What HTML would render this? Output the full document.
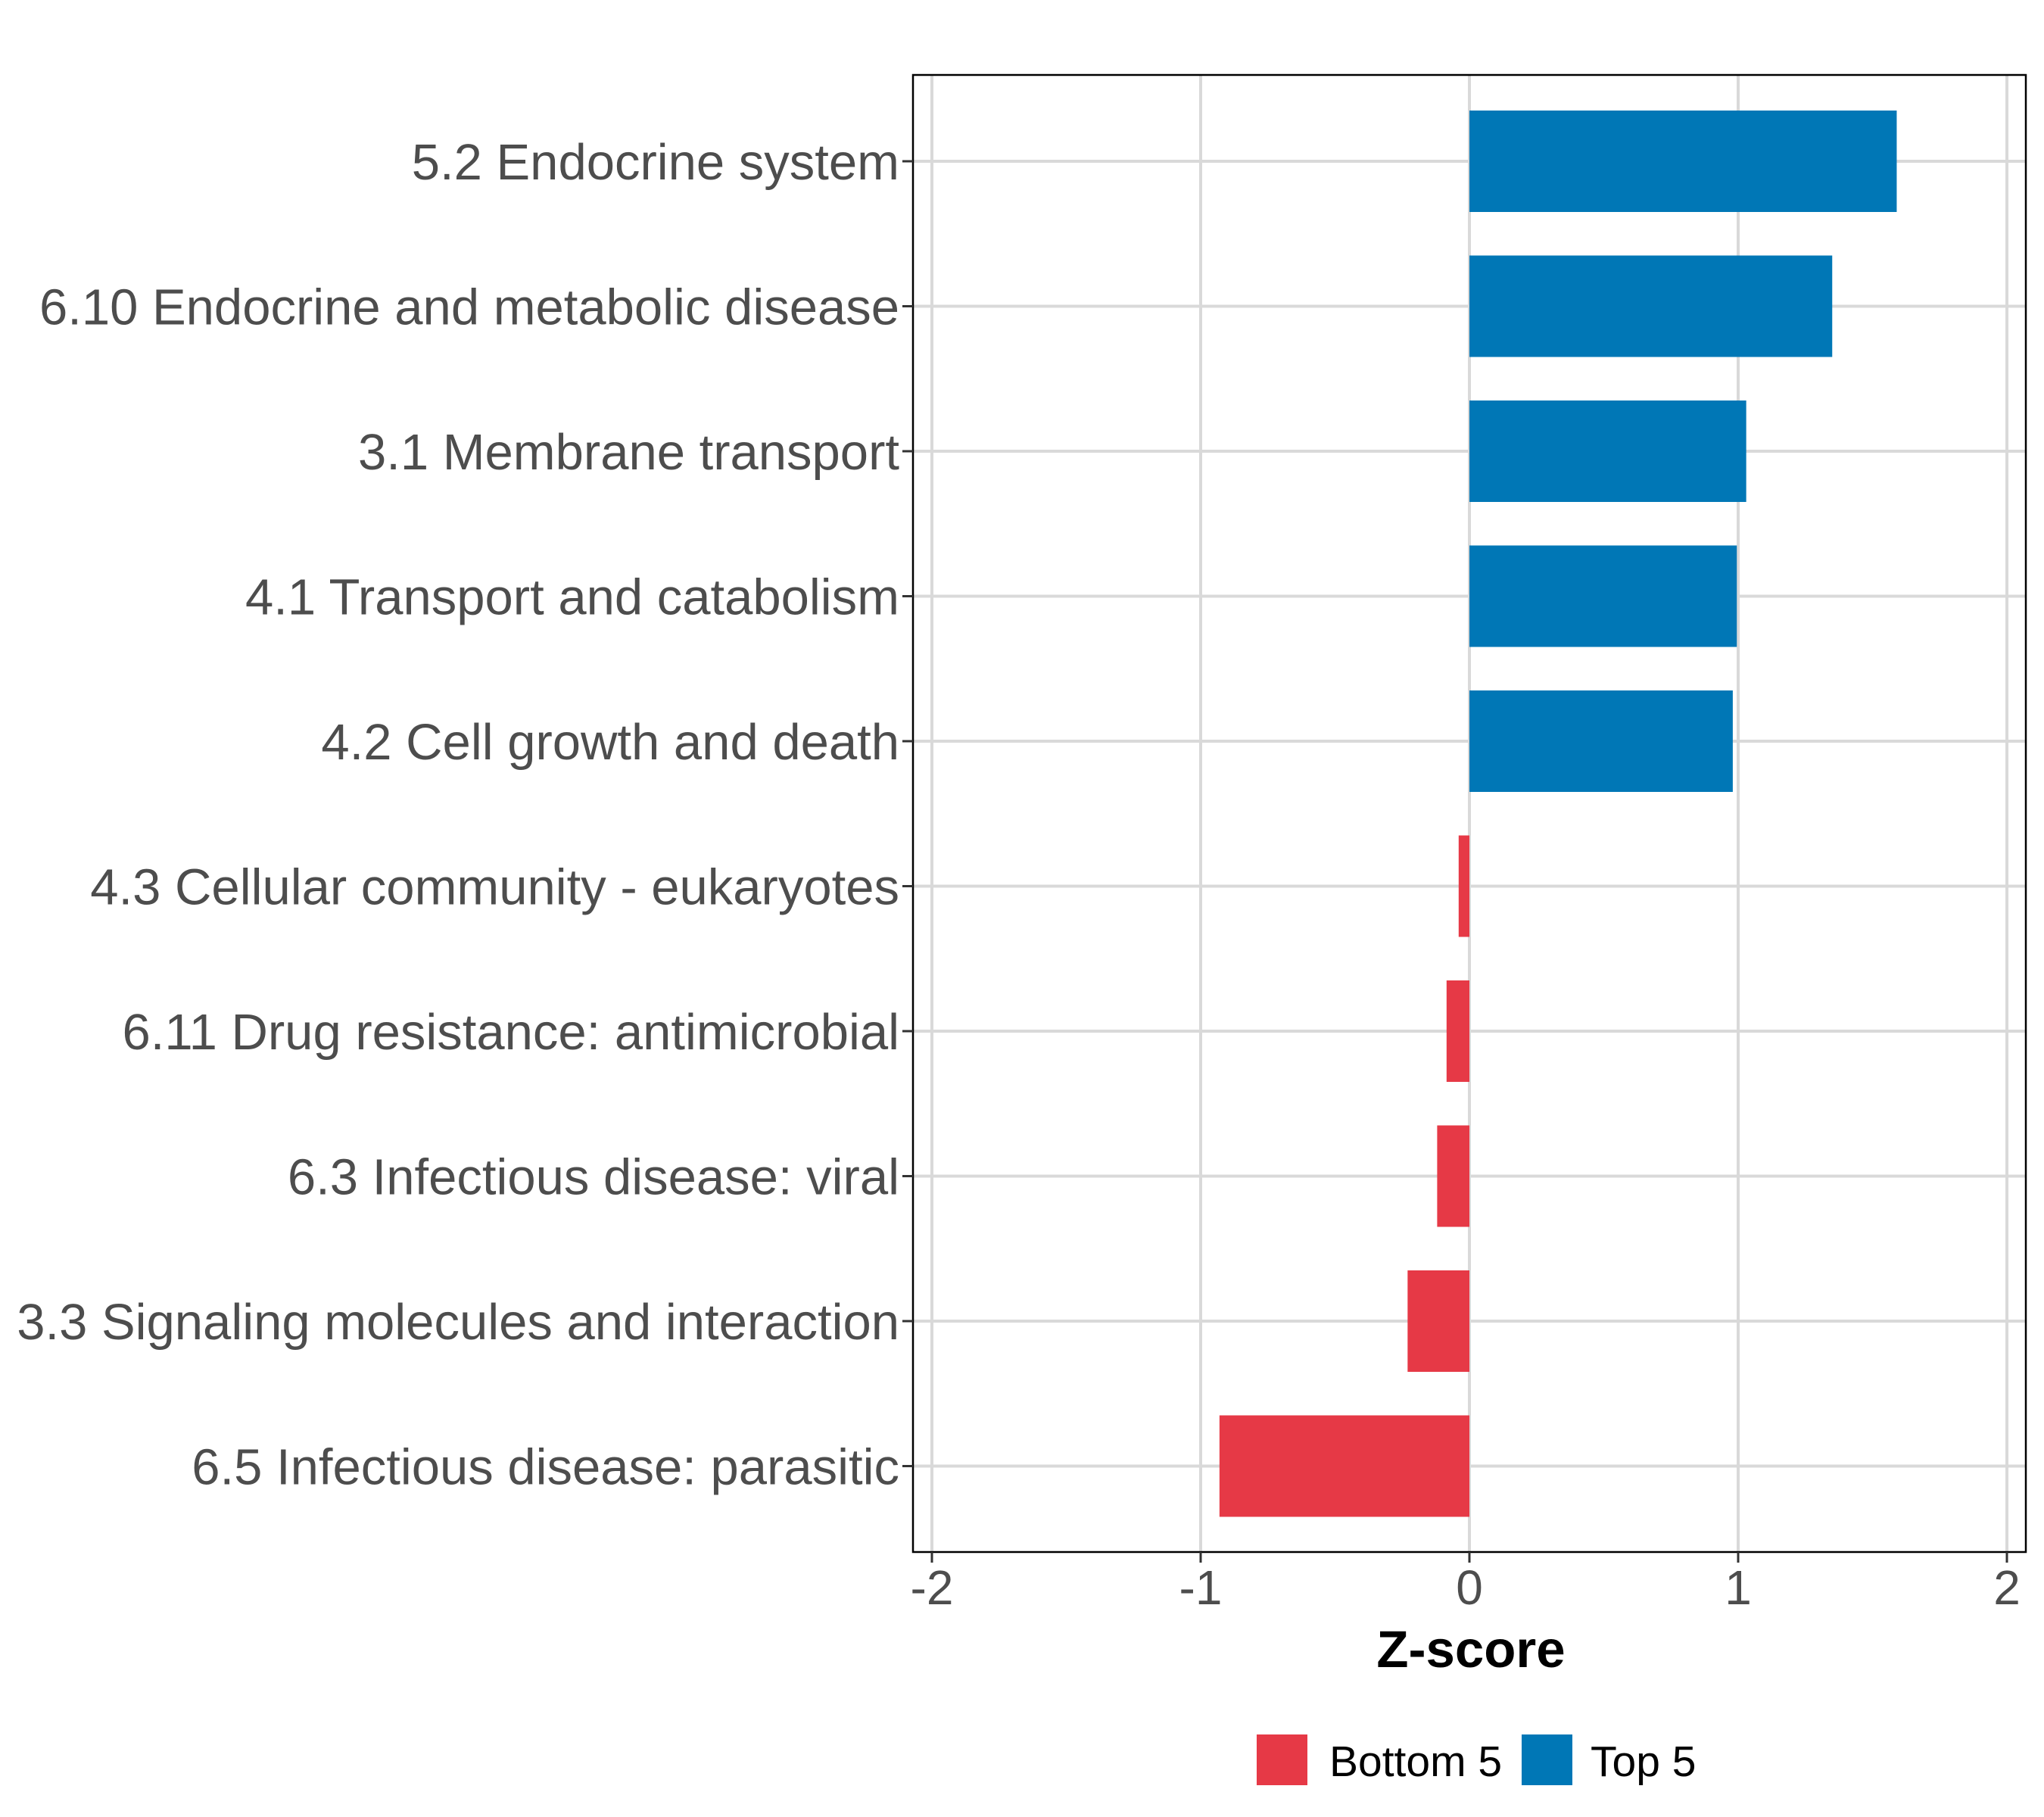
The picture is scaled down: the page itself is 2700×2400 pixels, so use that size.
<!DOCTYPE html>
<html><head><meta charset="utf-8"><style>
html,body{margin:0;padding:0;background:#fff;}
svg{display:block;font-family:"Liberation Sans",Arial,sans-serif;}
</style></head><body>
<svg id="chart" width="2700" height="2400" viewBox="0 0 2700 2400" xmlns="http://www.w3.org/2000/svg">
<g id="grid"></g>
<g id="bars"></g>
<rect x="1206" y="99" width="1470" height="1951" fill="none" stroke="#000" stroke-width="2.5"/>
<g id="yaxis"></g>
<g id="xaxis"></g>
<text x="1943" y="2202" text-anchor="middle" font-size="69" font-weight="bold" fill="#000">Z-score</text>
<g>
<g>
<rect x="1660" y="2291" width="67" height="67" fill="#E63946"/>
<text x="1756" y="2346" font-size="57" fill="#000">Bottom 5</text>
</g>
<g>
<rect x="2010" y="2291" width="67" height="67" fill="#0077B6"/>
<text x="2101" y="2346" font-size="57" fill="#000">Top 5</text>
</g>
</g>
</svg>
<script>
const categories = ["5.2 Endocrine system","6.10 Endocrine and metabolic disease","3.1 Membrane transport","4.1 Transport and catabolism","4.2 Cell growth and death","4.3 Cellular community - eukaryotes","6.11 Drug resistance: antimicrobial","6.3 Infectious disease: viral","3.3 Signaling molecules and interaction","6.5 Infectious disease: parasitic"];
const values = [1.59, 1.35, 1.03, 0.995, 0.98, -0.04, -0.085, -0.12, -0.23, -0.93];
const groups = ["Top 5","Top 5","Top 5","Top 5","Top 5","Bottom 5","Bottom 5","Bottom 5","Bottom 5","Bottom 5"];
const xTicks = [-2, -1, 0, 1, 2];
const xTickLabels = ["-2","-1","0","1","2"];

const NS = "http://www.w3.org/2000/svg";
const x = v => 1941 + v * 355;
const yc = i => 213 + i * 191.5;
const bandH = 134;
const colors = {"Top 5":"#0077B6","Bottom 5":"#E63946"};
function mk(tag, attrs, parent){const e=document.createElementNS(NS,tag);for(const k in attrs)e.setAttribute(k,attrs[k]);parent.appendChild(e);return e;}
const grid=document.getElementById('grid'), bars=document.getElementById('bars'), ya=document.getElementById('yaxis'), xa=document.getElementById('xaxis');
xTicks.forEach((t,i)=>{
  const l=mk('line',{x1:x(t),x2:x(t),y1:99,y2:2050,stroke:'#d9d9d9','stroke-width':4},grid);
  
  
  const tk=mk('line',{x1:x(t),x2:x(t),y1:2050,y2:2064,stroke:'#333','stroke-width':3},xa);
  
  
  const tx=mk('text',{x:x(t),y:2119,'text-anchor':'middle','font-size':64,fill:'#4d4d4d'},xa);
  tx.textContent=xTickLabels[i];
  
  
});
categories.forEach((c,i)=>{
  const y=yc(i);
  const g=mk('line',{x1:1206,x2:2676,y1:y,y2:y,stroke:'#d9d9d9','stroke-width':4},grid);
  
  
  const v=values[i];
  const r=mk('rect',{x:Math.min(x(0),x(v)),y:y-bandH/2,width:Math.abs(x(v)-x(0)),height:bandH,fill:colors[groups[i]]},bars);
  
  
  const tk=mk('line',{x1:1192,x2:1206,y1:y,y2:y,stroke:'#333','stroke-width':3},ya);
  
  
  const tx=mk('text',{x:1188,y:y+24,'text-anchor':'end','font-size':67,fill:'#4d4d4d'},ya);
  tx.textContent=c;
  
  
});
</script>
</body></html>
